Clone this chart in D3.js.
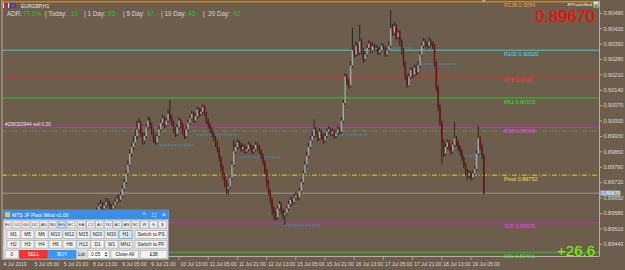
<!DOCTYPE html>
<html>
<head>
<meta charset="utf-8">
<script src="https://cdn.jsdelivr.net/npm/d3@7"></script>
<style>
html, body { margin: 0; padding: 0; background: #6d5d4c; overflow: hidden; }
svg { display: block; font-family: "Liberation Sans", Arial, sans-serif; }
</style>
</head>
<body>
<div id="chart"></div>
<script>
// EURGBP H1 bars, prices in points above 0.89000 (1 point = 0.00001)
const basePrice = 0.89;
const firstOpenPts = 565;
const closePts = [
  560,545,530,540,520,505,515,500,490,505,
  520,510,495,480,470,485,500,490,475,465,
  480,500,520,540,530,545,560,550,540,555,
  565,550,535,520,510,525,540,530,515,500,
  490,505,520,510,500,515,530,545,540,555,
  565,575,590,610,620,600,615,630,625,610,
  600,615,630,645,640,660,690,720,760,800,
  850,880,900,930,960,990,940,910,930,970,
  1000,980,950,920,900,930,960,990,1010,980,
  1000,1030,1010,990,960,940,970,1000,980,950,
  930,960,990,1010,1030,1000,1020,1050,1030,1040,
  1060,1030,1000,980,960,940,920,900,870,830,
  790,750,720,690,700,740,800,860,880,900,
  890,870,880,860,870,890,880,860,870,890,
  880,860,840,810,770,720,680,640,600,580,
  560,600,620,590,570,580,600,620,640,630,
  650,660,650,680,720,760,800,840,880,910,
  930,960,940,920,950,930,910,930,950,960,
  940,950,930,945,960,950,1000,1080,1200,1180,
  1160,1250,1320,1300,1340,1310,1360,1320,1280,1300,
  1330,1350,1320,1340,1330,1330,1310,1320,1340,1330,
  1300,1320,1340,1420,1400,1430,1380,1400,1360,1320,
  1260,1200,1160,1200,1230,1210,1240,1220,1250,1300,
  1340,1360,1350,1340,1360,1350,1340,1260,1150,1060,
  990,900,850,880,900,880,860,890,920,900,
  880,860,830,800,770,750,760,740,760,780,
  850,920,880,840,670
];
const highPts = [
  580,570,555,555,550,530,530,525,510,520,
  535,530,520,505,490,495,515,510,500,485,
  490,510,530,555,550,560,575,570,560,565,
  578,575,560,545,530,535,555,550,540,525,
  510,515,530,530,520,525,540,555,560,565,
  578,590,605,625,640,630,628,648,645,635,
  620,628,645,660,665,675,705,735,775,820,
  870,900,930,960,1000,1012,1000,950,945,985,
  1020,1015,990,960,935,945,975,1005,1030,1020,
  1015,1050,1094,1025,1000,970,985,1015,1010,990,
  960,975,1005,1025,1045,1040,1035,1065,1060,1055,
  1075,1070,1040,1010,990,970,950,930,910,880,
  840,800,760,730,715,755,815,912,895,915,
  910,900,895,890,885,905,900,890,885,905,
  900,890,870,850,820,780,730,690,650,610,
  590,612,635,630,600,595,612,635,655,650,
  665,675,670,695,735,775,815,858,900,930,
  950,1005,970,950,965,960,940,945,965,975,
  970,965,960,958,975,970,1015,1095,1215,1212,
  1190,1270,1422,1340,1360,1355,1435,1375,1330,1315,
  1345,1365,1360,1355,1350,1345,1340,1335,1352,1350,
  1340,1332,1360,1503,1440,1450,1440,1415,1410,1370,
  1330,1270,1210,1215,1245,1240,1255,1250,1270,1315,
  1355,1375,1370,1360,1380,1372,1362,1350,1270,1160,
  1075,1000,915,895,915,912,890,905,994,930,
  910,890,870,840,810,780,775,770,775,795,
  865,975,930,895,850
];
const lowPts = [
  545,535,515,520,510,495,495,485,475,480,
  495,500,480,465,455,460,475,480,460,450,
  455,470,490,510,515,520,535,540,525,530,
  545,540,525,510,495,500,515,520,505,490,
  478,480,495,500,488,492,505,520,530,532,
  545,555,565,580,600,590,590,605,612,598,
  585,592,605,620,628,632,650,680,710,750,
  790,835,865,890,915,945,925,890,895,920,
  960,965,935,900,885,890,920,950,980,965,
  970,990,995,975,945,925,930,960,965,935,
  915,920,950,980,1000,990,990,1010,1015,1020,
  1030,1020,985,965,945,925,905,880,855,815,
  770,730,700,665,662,690,730,790,850,870,
  875,858,860,848,850,860,868,845,852,860,
  866,848,825,795,755,700,660,620,570,548,
  545,550,590,575,550,525,570,590,610,615,
  620,640,635,640,670,710,750,790,830,870,
  900,920,925,905,910,915,895,900,920,940,
  928,930,918,920,935,935,940,990,1070,1160,
  1145,1150,1240,1285,1290,1295,1300,1300,1262,1270,
  1290,1320,1305,1310,1315,1315,1298,1300,1310,1318,
  1290,1292,1310,1330,1385,1390,1365,1370,1340,1300,
  1245,1185,1149,1155,1190,1195,1200,1205,1210,1240,
  1290,1330,1335,1325,1330,1338,1325,1245,1135,1045,
  975,800,835,840,870,865,845,850,880,885,
  862,840,815,785,748,730,738,728,732,750,
  770,840,865,825,662
];

// time axis
const timeTickBars = [0, 17, 33, 49, 65, 81, 97, 113, 129, 145, 161, 177, 193, 209, 225, 241, 257];
const timeTickLabels = ["4 Jul 2019", "5 Jul 05:00", "5 Jul 21:00", "8 Jul 13:00", "9 Jul 05:00",
  "9 Jul 21:00", "10 Jul 13:00", "11 Jul 05:00", "11 Jul 21:00", "12 Jul 13:00", "15 Jul 05:00",
  "15 Jul 21:00", "16 Jul 13:00", "17 Jul 05:00", "17 Jul 21:00", "18 Jul 13:00", "19 Jul 05:00"];

// price axis
const priceTicks = [0.8944, 0.8951, 0.8958, 0.8965, 0.8972, 0.8979, 0.8986, 0.8993,
  0.9000, 0.9007, 0.9014, 0.9021, 0.9028, 0.9035, 0.9042, 0.9049];

// pivot levels
const levelNames = ["R138", "R100", "R78", "R61", "R38", "Pivot", "S38", "S61"];
const levelPrices = [0.9054, 0.9032, 0.9020, 0.90103, 0.89969, 0.89752, 0.89535, 0.89401];
const levelLabels = ["R138 0.9054", "R100 0.90320", "R78 0.9020", "R61 0.90103",
  "R38 0.89969", "Pivot 0.89752", "S38 0.89535", "S61 0.89401"];

// daily open segments (bar index from / to, price)
const sessionFrom = [83, 107, 130, 155, 178, 203, 228, 252];
const sessionTo = [105, 129, 153, 174, 200, 225, 249, 263];
const sessionPrice = [0.89889, 0.89935, 0.89834, 0.89525, 0.89935, 0.90330, 0.90257, 0.89839];

const bidPrice = 0.8967;
const orderPrice = 0.89953;
const orderLabel = "#238320944 sell 0.20";
const profitText = "+26.6";

const adrNames = ["ADR:", "| Today:", "| 1 Day:", "| 5 Day:", "| 10 Day:", "|  20 Day:"];
const adrValues = ["77.1%", "31", "60", "47", "40", "42"];

const pairButtons = ["EU","UJ","GU","UC","AU","NU","EG","EC","EA","CJ","AJ","NJ","AC","AN","NC","W","G","$"];
const tfRow1 = ["M1","M5","M6","M10","M12","M15","M20","M30","H1"];
const tfRow2 = ["H2","H3","H4","H6","H8","H12","D1","W1","MN1"];

// ---- layout / style ----
const W = 625, H = 270;
const plotLeft = 2, plotRight = 599, plotBottom = 256;
const levelStyle = {
  R138: { line: "#e89a28", text: "#f0a030", dash: null },
  R100: { line: "#38d0d8", text: "#40e0e8", dash: null },
  R78:  { line: "#c83a30", text: "#ff3c3c", dash: null },
  R61:  { line: "#30c030", text: "#30e030", dash: null },
  R38:  { line: "#c030c0", text: "#ee44ee", dash: null },
  Pivot:{ line: "#e0d030", text: "#f0e040", dash: "5,2,1,2" },
  S38:  { line: "#c030c0", text: "#ee44ee", dash: null },
  S61:  { line: "#30c030", text: "#30e030", dash: null }
};
const axisColor = "#b8b0a8", axisText = "#dcdcdc";

const x = d3.scaleLinear().domain([0, 327]).range([plotLeft, plotLeft + 327 * 1.825]);
const y = d3.scaleLinear().domain([0.893843, 0.905484]).range([plotBottom, 0]);

const svg = d3.select("#chart").append("svg").attr("width", W).attr("height", H);
svg.append("rect").attr("width", W).attr("height", H).attr("fill", "#6d5d4c");

svg.append("defs").append("clipPath").attr("id", "plotclip")
  .append("rect").attr("x", plotLeft).attr("y", 0)
  .attr("width", plotRight - plotLeft).attr("height", plotBottom);

const plot = svg.append("g").attr("clip-path", "url(#plotclip)");

// level lines
levelNames.forEach((name, k) => {
  const st = levelStyle[name];
  plot.append("line")
    .attr("x1", plotLeft).attr("x2", plotRight)
    .attr("y1", y(levelPrices[k])).attr("y2", y(levelPrices[k]))
    .attr("stroke", st.line).attr("stroke-width", 1)
    .attr("stroke-dasharray", st.dash);
});

// order line
plot.append("line")
  .attr("x1", plotLeft).attr("x2", plotRight)
  .attr("y1", y(orderPrice)).attr("y2", y(orderPrice))
  .attr("stroke", "#3ea83e").attr("stroke-width", 1).attr("stroke-dasharray", "5,2,1,2");

// bid line
plot.append("line")
  .attr("x1", plotLeft).attr("x2", plotRight)
  .attr("y1", y(bidPrice)).attr("y2", y(bidPrice))
  .attr("stroke", "#9c9890").attr("stroke-width", 1);

// daily open segments
sessionFrom.forEach((b, k) => {
  plot.append("line")
    .attr("x1", x(b)).attr("x2", x(sessionTo[k]))
    .attr("y1", y(sessionPrice[k])).attr("y2", y(sessionPrice[k]))
    .attr("stroke", "#2aa8ff").attr("stroke-width", 1).attr("stroke-dasharray", "1.5,1.5");
});

// candles
const bars = closePts.map((c, i) => {
  const o = basePrice + (i ? closePts[i - 1] : firstOpenPts) / 1e5;
  const cl = basePrice + c / 1e5;
  return {
    i: i, o: o, c: cl,
    h: Math.max(basePrice + highPts[i] / 1e5, o, cl),
    l: Math.min(basePrice + lowPts[i] / 1e5, o, cl)
  };
});

plot.selectAll(".wick").data(bars).enter().append("line")
  .attr("class", "wick")
  .attr("x1", d => x(d.i)).attr("x2", d => x(d.i))
  .attr("y1", d => y(d.h)).attr("y2", d => y(d.l))
  .attr("stroke", "#1c1814").attr("stroke-width", 0.8);

plot.selectAll(".body").data(bars).enter().append("rect")
  .attr("class", "body")
  .attr("x", d => x(d.i) - 0.75)
  .attr("width", 1.5)
  .attr("y", d => y(Math.max(d.o, d.c)))
  .attr("height", d => Math.max(0.8, Math.abs(y(d.o) - y(d.c))))
  .attr("fill", d => d.c >= d.o ? "#a8a8a8" : "#6e1212");

// level labels
const labelBar = 275;
levelNames.forEach((name, k) => {
  svg.append("text")
    .attr("x", x(labelBar)).attr("y", y(levelPrices[k]) + 5.6)
    .attr("font-size", 5.5).attr("fill", levelStyle[name].text)
    .text(levelLabels[k]);
});

svg.append("text")
  .attr("x", 5).attr("y", y(orderPrice) - 5)
  .attr("font-size", 4.8).attr("fill", "#e8e8e8")
  .text(orderLabel);

// chart frame
svg.append("line").attr("x1", plotLeft).attr("x2", plotLeft).attr("y1", 0).attr("y2", plotBottom)
  .attr("stroke", axisColor).attr("stroke-width", 1);

// shift marker
svg.append("path")
  .attr("d", `M${x(closePts.length - 1) - 2},0 L${x(closePts.length - 1) + 2},0 L${x(closePts.length - 1)},2.5 Z`)
  .attr("fill", "#9aa8b8");

// price axis
const yAxis = d3.axisRight(y).tickValues(priceTicks).tickSize(3).tickSizeOuter(0)
  .tickPadding(1.5).tickFormat(d3.format(".5f"));
const gy = svg.append("g").attr("transform", `translate(${plotRight},0)`).call(yAxis);
gy.select(".domain").attr("stroke", axisColor);
gy.selectAll(".tick line").attr("stroke", axisColor);
gy.selectAll(".tick text").attr("fill", axisText).attr("font-size", 5.5)
  .attr("font-family", "Liberation Sans, Arial, sans-serif");

// bid price box
svg.append("rect").attr("x", plotRight + 1).attr("y", y(bidPrice) - 2.8)
  .attr("width", 20).attr("height", 5.6).attr("fill", "#8a9fb8");
svg.append("text").attr("x", plotRight + 2.5).attr("y", y(bidPrice) + 2)
  .attr("font-size", 5.3).attr("fill", "#f0f4f8").text(d3.format(".5f")(bidPrice));

// time axis
svg.append("line").attr("x1", plotLeft).attr("x2", plotRight)
  .attr("y1", plotBottom + 0.5).attr("y2", plotBottom + 0.5)
  .attr("stroke", axisColor).attr("stroke-width", 1);
const gt = svg.append("g");
timeTickBars.forEach((b, k) => {
  gt.append("line").attr("x1", x(b)).attr("x2", x(b))
    .attr("y1", plotBottom).attr("y2", plotBottom + 4)
    .attr("stroke", axisColor).attr("stroke-width", 0.8);
  gt.append("text").attr("x", x(b) + 1.5).attr("y", 265.5)
    .attr("font-size", 5).attr("fill", axisText).text(timeTickLabels[k]);
});

// header
svg.append("rect").attr("x", 3).attr("y", 3).attr("width", 6).attr("height", 5).attr("fill", "#e8e8f0");
svg.append("rect").attr("x", 4).attr("y", 3).attr("width", 4).attr("height", 5).attr("fill", "#c82828");
svg.append("rect").attr("x", 10).attr("y", 3).attr("width", 6).attr("height", 5).attr("fill", "#2848c0");
svg.append("rect").attr("x", 11.5).attr("y", 4).attr("width", 3).attr("height", 3).attr("fill", "#d83030");
svg.append("text").attr("x", 21).attr("y", 8).attr("font-size", 5).attr("fill", "#e8e8e8").text("EURGBP,H1");

const adrNameX = [7, 45, 84, 123, 161, 203];
const adrValueX = [23, 71, 108, 147, 188, 233];
adrNames.forEach((n, k) => {
  svg.append("text").attr("x", adrNameX[k]).attr("y", 16.2).attr("font-size", 6.3)
    .attr("fill", "#d8d8d8").attr("xml:space", "preserve").style("white-space", "pre").text(n);
  svg.append("text").attr("x", adrValueX[k]).attr("y", 16.2).attr("font-size", 6.3)
    .attr("fill", "#22c822").text(adrValues[k]);
});

// top right
svg.append("text").attr("x", 592).attr("y", 6.3).attr("text-anchor", "end")
  .attr("font-size", 4.4).attr("fill", "#f0f0f0").text("JFPivotsMod");
svg.append("rect").attr("x", 593.5).attr("y", 1.5).attr("width", 5).attr("height", 6).attr("fill", "#d0d8e0");
svg.append("rect").attr("x", 594.5).attr("y", 4.5).attr("width", 3).attr("height", 3).attr("fill", "#30b030");
svg.append("text").attr("x", 595).attr("y", 21.5).attr("text-anchor", "end")
  .attr("font-size", 16.5).attr("fill", "#ff0000").text(d3.format(".5f")(bidPrice));

svg.append("text").attr("x", 595).attr("y", 255.5).attr("text-anchor", "end")
  .attr("font-size", 15).attr("fill", "#7cfc00").text(profitText);

// trade panel
const panel = svg.append("g");
const px0 = 3, px1 = 168.5, py0 = 210, py1 = 259.5;
panel.append("rect").attr("x", px0).attr("y", py0).attr("width", px1 - px0).attr("height", py1 - py0)
  .attr("fill", "#dcdcdc").attr("stroke", "#9a9a9a").attr("stroke-width", 0.6);
panel.append("rect").attr("x", px0).attr("y", py0).attr("width", px1 - px0).attr("height", 9.5)
  .attr("fill", "#3a8ee4");
panel.append("rect").attr("x", px0 + 2).attr("y", py0 + 2.2).attr("width", 5).attr("height", 5).attr("fill", "#e8c060");
panel.append("text").attr("x", px0 + 9).attr("y", py0 + 6.6).attr("font-size", 5)
  .attr("fill", "#ffffff").text("MTS JF Pivot Wind v1.00");
["^", "\u25A1", "\u00D7"].forEach((s, k) => {
  panel.append("text").attr("x", 144 + k * 10).attr("y", py0 + 7.2).attr("text-anchor", "middle")
    .attr("font-size", 6.5).attr("fill", "#ffffff").text(s);
});

function button(bx, by, bw, bh, label, opt) {
  opt = opt || {};
  panel.append("rect").attr("x", bx).attr("y", by).attr("width", bw).attr("height", bh)
    .attr("fill", opt.fill || "#f2f2f2").attr("stroke", opt.stroke || "#a8a8a8").attr("stroke-width", 0.6);
  panel.append("text").attr("x", bx + bw / 2).attr("y", by + bh / 2 + 1.8).attr("text-anchor", "middle")
    .attr("font-size", opt.size || 4.8).attr("fill", opt.color || "#1a1a1a").text(label);
}

pairButtons.forEach((p, k) => {
  const sel = p === "EG";
  button(4 + k * 9 + (k >= 8 ? 1.5 : 0), 221, 8, 7, p,
    sel ? { fill: "#dbe8f6", stroke: "#3a8ee4", size: 4.2 } : { size: 4.2 });
});
tfRow1.forEach((t, k) => {
  const sel = t === "H1";
  button(7 + k * 14, 230.7, 13, 7.6, t, sel ? { fill: "#dbe8f6", stroke: "#3a8ee4" } : {});
});
button(135, 230.7, 32, 7.6, "Switch to PS");
tfRow2.forEach((t, k) => button(7 + k * 14, 240.5, 13, 7.6, t));
button(135, 240.5, 32, 7.6, "Switch to PF");

button(5, 250.3, 13.5, 8, "0");
button(19.5, 250.3, 28, 8, "SELL", { fill: "#ff3030", stroke: "#d02020", color: "#ffffff" });
button(48.5, 250.3, 27.5, 8, "BUY", { fill: "#3399ff", stroke: "#2a80d8", color: "#ffffff" });
panel.append("text").attr("x", 78).attr("y", 256.2).attr("font-size", 4.8).attr("fill", "#1a1a1a").text("Lot:");
panel.append("rect").attr("x", 88).attr("y", 250.3).attr("width", 21).attr("height", 8)
  .attr("fill", "#ffffff").attr("stroke", "#a8a8a8").attr("stroke-width", 0.6);
panel.append("text").attr("x", 91).attr("y", 256.2).attr("font-size", 4.8).attr("fill", "#1a1a1a").text("0.05");
panel.append("path").attr("d", "M104.5,253.8 L106,252 L107.5,253.8 Z M104.5,255 L106,256.8 L107.5,255 Z")
  .attr("fill", "#333");
button(111, 250.3, 27.5, 8, "Close All");
button(140.5, 250.3, 26.5, 8, "\u00A338");
</script>
</body>
</html>
